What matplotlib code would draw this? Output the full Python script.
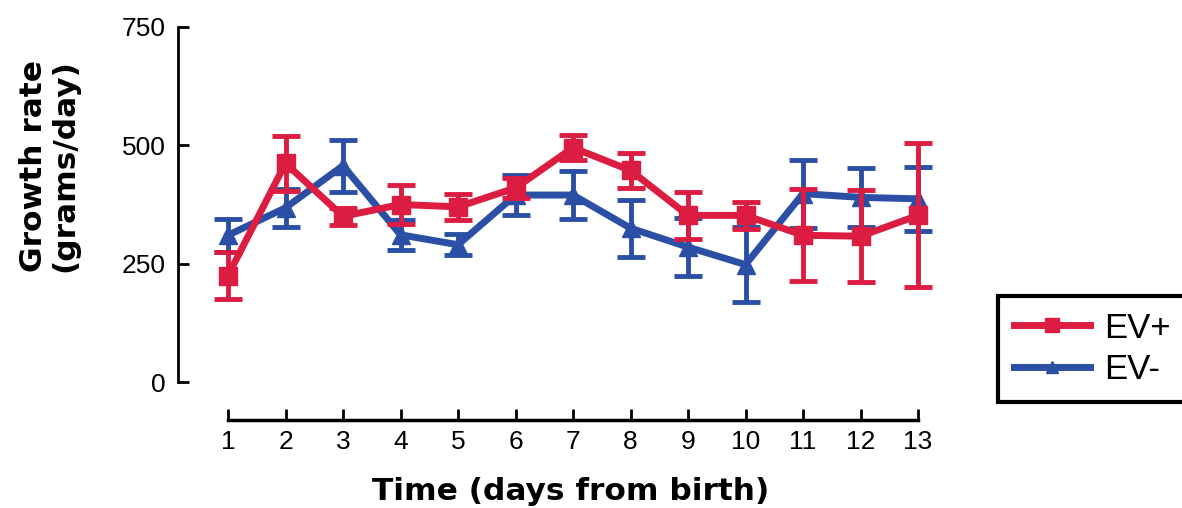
import matplotlib
matplotlib.use("Agg")
import matplotlib.pyplot as plt
from matplotlib.lines import Line2D

# Growth rate by day from birth, mean and error per group
days = list(range(1, 14))
ev_pos_mean = [225, 462, 350, 375, 370, 410, 495, 447, 352, 352, 310, 308, 352]
ev_pos_err = [50, 58, 18, 42, 27, 22, 26, 37, 50, 28, 97, 97, 152]
ev_neg_mean = [310, 368, 457, 311, 290, 395, 395, 325, 285, 248, 398, 390, 387]
ev_neg_err = [35, 40, 55, 32, 22, 42, 50, 60, 62, 80, 72, 63, 67]
y_ticks = [0, 250, 500, 750]

RED = "#dc1c40"
BLUE = "#2a4fa4"

plt.rcParams["font.family"] = ["Liberation Sans", "DejaVu Sans"]

W, H = 1182, 508
fig = plt.figure(figsize=(W / 100, H / 100), dpi=100)
# axes placed so day 1..13 spans x 228..918 px and 0..750 spans y 382..27 px
x0, x1 = 0.13, 13.3
y0, y1 = -90, 760
px_per_day = (918 - 228) / 12
px_per_unit = (382 - 27) / 750
left = 228 - (1 - x0) * px_per_day
right = 918 + (x1 - 13) * px_per_day
bottom = 382 + (0 - y0) * px_per_unit
top = 382 - y1 * px_per_unit
ax = fig.add_axes([left / W, 1 - bottom / H, (right - left) / W, (bottom - top) / H])

ax.errorbar(days, ev_neg_mean, yerr=ev_neg_err, color=BLUE, lw=5, marker="^",
            ms=13, elinewidth=3.5, capsize=10, capthick=3.5, zorder=2)
ax.errorbar(days, ev_pos_mean, yerr=ev_pos_err, color=RED, lw=5, marker="s",
            ms=13, elinewidth=3.5, capsize=10, capthick=3.5, zorder=3)

ax.set_xlim(x0, x1)
ax.set_ylim(y0, y1)

for s in ("top", "right"):
    ax.spines[s].set_visible(False)
ax.spines["left"].set_position(("data", x0))
ax.spines["left"].set_bounds(0, 750)
ax.spines["left"].set_linewidth(2)
ax.spines["bottom"].set_position(("data", -80))
ax.spines["bottom"].set_bounds(1, 13)
ax.spines["bottom"].set_linewidth(2.5)

ax.set_yticks(y_ticks)
ax.set_yticklabels([str(v) for v in y_ticks], fontsize=19)
ax.set_xticks(days)
ax.set_xticklabels([str(d) for d in days], fontsize=19)
ax.tick_params(axis="y", direction="in", length=8, width=2, pad=9)
ax.tick_params(axis="x", direction="in", length=8, width=2, pad=7)

# axis titles
fig.text(571 / W, 1 - 492 / H, "Time (days from birth)", fontsize=22.5,
         fontweight="bold", family="DejaVu Sans", ha="center", va="center")
fig.text(49 / W, 1 - 166 / H, "Growth rate\n(grams/day)", fontsize=22.5,
         fontweight="bold", family="DejaVu Sans", rotation=90,
         ha="center", va="center", linespacing=1.1, multialignment="center")

# legend: line with marker samples in a heavy black frame
handles = [
    Line2D([], [], color=RED, lw=5, marker="s", ms=10),
    Line2D([], [], color=BLUE, lw=5, marker="^", ms=9),
]
leg = fig.legend(handles, ["EV+", "EV-"],
                 loc="upper left", bbox_to_anchor=(998 / W, 1 - 296 / H),
                 fontsize=25, frameon=True, fancybox=False, framealpha=1,
                 handlelength=2.2, borderpad=0.45, labelspacing=0.25,
                 handletextpad=0.4, borderaxespad=0)
leg.get_frame().set_edgecolor("black")
leg.get_frame().set_linewidth(3)

fig.savefig("out.png", dpi=100)
